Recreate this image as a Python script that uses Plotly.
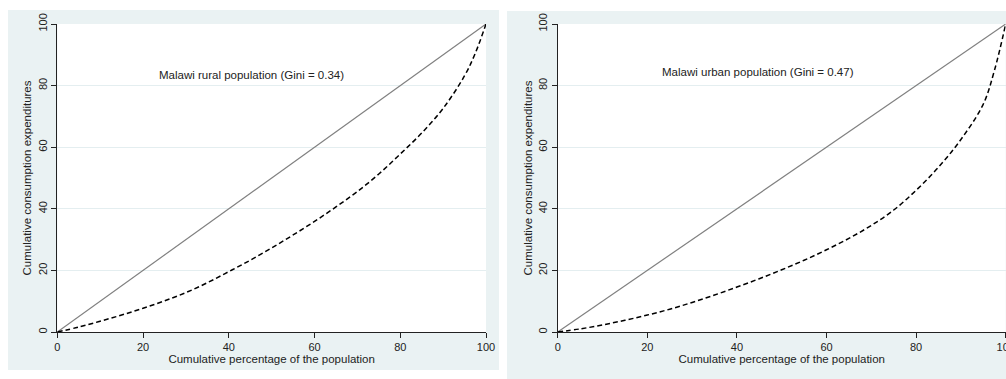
import plotly.graph_objects as go

# ---- data ----
pop_pct = [0, 5, 10, 15, 20, 25, 30, 35, 40, 45, 50, 55, 60, 65, 70, 75, 80, 85, 90, 95, 97.5, 100]
rural_lorenz = [0, 1.6, 3.5, 5.5, 7.7, 10.1, 12.8, 16.0, 19.6, 23.3, 27.3, 31.5, 35.9, 40.6, 45.6, 51.3, 57.8, 64.6, 72.6, 83.2, 90.5, 100]
urban_lorenz = [0, 1.0, 2.3, 3.8, 5.5, 7.4, 9.6, 12.0, 14.6, 17.3, 20.2, 23.3, 26.7, 30.4, 34.6, 39.6, 46.0, 53.5, 62.5, 74.0, 85.0, 100]
equality = [0, 100]
x_ticks = [0, 20, 40, 60, 80, 100]
y_ticks = [0, 20, 40, 60, 80, 100]
panel_labels = ["Malawi rural population (Gini = 0.34)", "Malawi urban population (Gini = 0.47)"]
x_title = "Cumulative percentage of the population"
y_title = "Cumulative consumption expenditures"

W, H = 1006, 379
BG = "#eaf2f3"
GRID = "#e4eef0"
FONT = "Liberation Sans, Arial, sans-serif"

def px(x):
    return x / W

def py(y):
    return (H - y) / H

xdom1 = [px(57.3), px(486)]
xdom2 = [px(557.7), px(1005.7)]
ydom = [py(332), py(24)]

fig = go.Figure()

for i, lor in enumerate([rural_lorenz, urban_lorenz]):
    xa = "x" if i == 0 else "x2"
    ya = "y" if i == 0 else "y2"
    fig.add_trace(go.Scatter(x=equality, y=equality, mode="lines",
                             line=dict(color="#808080", width=1.2),
                             xaxis=xa, yaxis=ya, showlegend=False, hoverinfo="skip"))
    fig.add_trace(go.Scatter(x=pop_pct, y=lor, mode="lines", line_shape="spline",
                             line=dict(color="black", width=1.5, dash="5px,3px"),
                             xaxis=xa, yaxis=ya, showlegend=False))

axis_common = dict(range=[0, 100], showline=True, linecolor="#222", linewidth=1,
                   ticks="outside", ticklen=5, tickcolor="#222", tickwidth=1,
                   zeroline=False, automargin=False, ticklabeloverflow="allow",
                   tickfont=dict(size=11, color="#222", family=FONT))

xcommon = dict(axis_common, tickvals=x_ticks, showgrid=False,
               title=dict(text=x_title, font=dict(size=11.5, color="#222", family=FONT), standoff=0))
ycommon = dict(axis_common, tickvals=y_ticks, showgrid=True, gridcolor=GRID, gridwidth=1,
               tickangle=-90,
               title=dict(text=y_title, font=dict(size=11.5, color="#222", family=FONT), standoff=2))

fig.update_layout(
    width=W, height=H,
    margin=dict(l=0, r=0, t=0, b=0),
    paper_bgcolor="white", plot_bgcolor="white",
    font=dict(family=FONT, size=11, color="#222"),
    xaxis=dict(xcommon, domain=xdom1, anchor="y"),
    yaxis=dict(ycommon, domain=ydom, anchor="x"),
    xaxis2=dict(xcommon, domain=xdom2, anchor="y2"),
    yaxis2=dict(ycommon, domain=ydom, anchor="x2"),
    showlegend=False,
)

# panel backgrounds and white plot regions
shapes = [
    dict(type="rect", xref="paper", yref="paper", x0=px(8), x1=px(499), y0=py(370), y1=py(10),
         fillcolor=BG, line=dict(width=0), layer="below"),
    dict(type="rect", xref="paper", yref="paper", x0=px(507), x1=px(1006), y0=py(379), y1=py(11),
         fillcolor=BG, line=dict(width=0), layer="below"),
    dict(type="rect", xref="paper", yref="paper", x0=xdom1[0], x1=xdom1[1], y0=ydom[0], y1=ydom[1],
         fillcolor="white", line=dict(width=0), layer="below"),
    dict(type="rect", xref="paper", yref="paper", x0=xdom2[0], x1=xdom2[1], y0=ydom[0], y1=ydom[1],
         fillcolor="white", line=dict(width=0), layer="below"),
]
fig.update_layout(shapes=shapes)

fig.add_annotation(x=45.2, y=83.4, xref="x", yref="y", text=panel_labels[0], showarrow=False,
                   font=dict(size=11.5, color="#222", family=FONT))
fig.add_annotation(x=44.8, y=84.5, xref="x2", yref="y2", text=panel_labels[1], showarrow=False,
                   font=dict(size=11.5, color="#222", family=FONT))

fig.write_html("out.html", config={"displayModeBar": False},
               post_script="document.body.style.margin='0';document.body.style.overflow='hidden';")
